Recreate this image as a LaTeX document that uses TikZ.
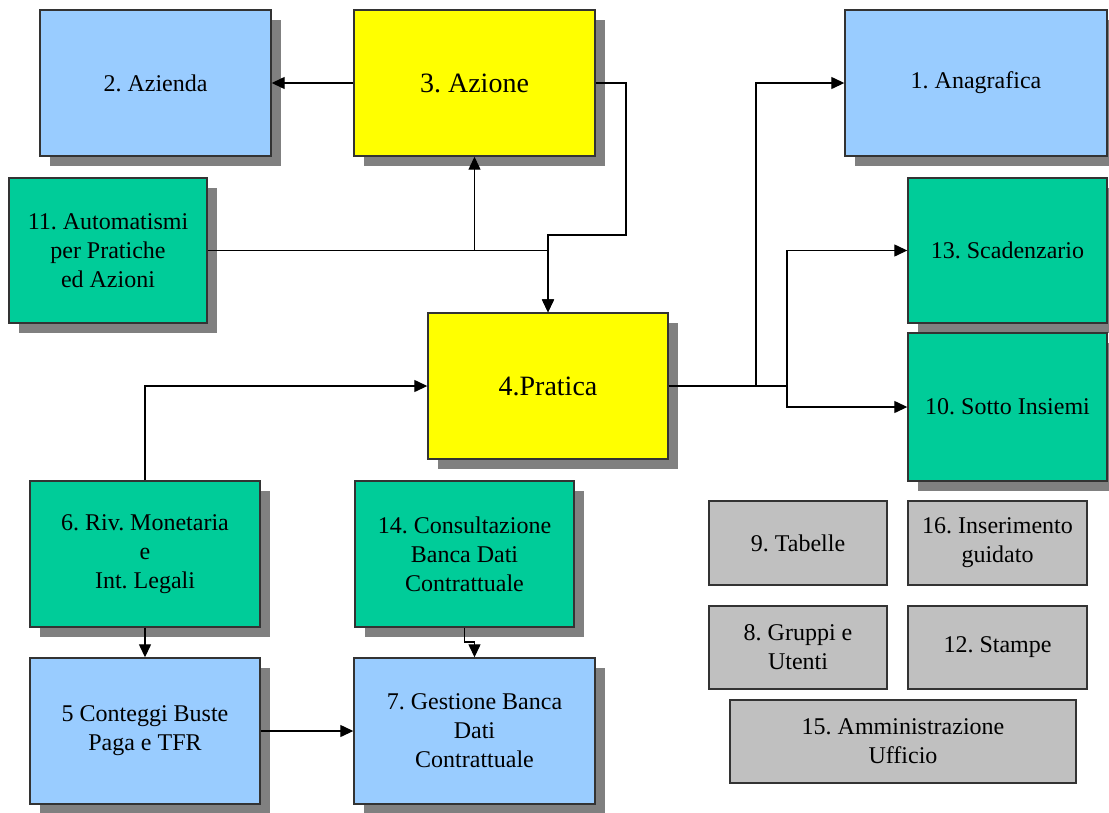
\documentclass[tikz,border=0pt]{standalone}
\usepackage{fontspec}
\setmainfont{Liberation Serif}
\usetikzlibrary{arrows.meta,shadows}
\definecolor{boxblue}{HTML}{99CCFF}
\definecolor{boxyellow}{HTML}{FFFF00}
\definecolor{boxgreen}{HTML}{00CC99}
\definecolor{boxgray}{HTML}{C0C0C0}
\definecolor{shadowgray}{HTML}{808080}
\definecolor{edge}{HTML}{333333}
\frenchspacing
\begin{document}
\begin{tikzpicture}[x=1pt,y=-1pt,
  module/.style={draw=edge, line width=1.4pt, rectangle, inner sep=0pt, align=center,
    font=\fontsize{24}{29}\selectfont},
  shadowed/.style={module, drop shadow={shadow xshift=10pt, shadow yshift=-10pt,
    fill=shadowgray, opacity=1}},
  bluebox/.style={shadowed, fill=boxblue},
  yellowbox/.style={shadowed, fill=boxyellow, font=\fontsize{28}{34}\selectfont},
  greenbox/.style={shadowed, fill=boxgreen},
  graybox/.style={module, fill=boxgray},
  arr/.style={draw=black, line width=1.3pt, -{Triangle[length=13pt,width=12pt]}}]
\useasboundingbox (0,0) rectangle (1109,812);

% main modules
\node[bluebox, minimum width=231pt, minimum height=146pt] (azienda) at (155.5,83) {2. Azienda};
\node[yellowbox, minimum width=241pt, minimum height=146pt] (azione) at (474.5,83) {3. Azione};
\node[bluebox, minimum width=262pt, minimum height=146pt] (anagrafica) at (976,83) {1. Anagrafica};
\node[greenbox, minimum width=198pt, minimum height=145pt] (auto) at (108,250.5) {11. Automatismi\\per Pratiche\\ed Azioni};
\node[greenbox, minimum width=199pt, minimum height=145pt] (scad) at (1007.5,250.5) {13. Scadenzario};
\node[yellowbox, minimum width=240pt, minimum height=146pt] (pratica) at (548,386) {4.Pratica};
\node[greenbox, minimum width=199pt, minimum height=148pt] (sotto) at (1007.5,407) {10. Sotto Insiemi};
\node[greenbox, minimum width=230pt, minimum height=146pt] (riv) at (145,554) {6. Riv. Monetaria\\e\\Int. Legali};
\node[greenbox, minimum width=219pt, minimum height=146pt] (consult) at (464.5,554) {14. Consultazione\\Banca Dati\\Contrattuale};
\node[bluebox, minimum width=230pt, minimum height=146pt] (cont) at (145,731) {5 Conteggi Buste\\Paga e TFR};
\node[bluebox, minimum width=241pt, minimum height=146pt] (gest) at (474.5,731) {7. Gestione Banca\\Dati\\Contrattuale};

% service modules
\node[graybox, minimum width=178pt, minimum height=84pt] (tab) at (798,543) {9. Tabelle};
\node[graybox, minimum width=179pt, minimum height=84pt] (ins) at (997.5,543) {16. Inserimento\\guidato};
\node[graybox, minimum width=178pt, minimum height=83pt] (grp) at (798,647.5) {8. Gruppi e\\Utenti};
\node[graybox, minimum width=179pt, minimum height=83pt] (stm) at (997.5,647.5) {12. Stampe};
\node[graybox, minimum width=346pt, minimum height=83pt] (amm) at (903,741.5) {15. Amministrazione\\Ufficio};

% junction points
\coordinate (j1) at (626,235);
\coordinate (b1) at (756,386);
\coordinate (b2) at (787,386);
\coordinate (k1) at (464.5,642);

% connectors
\draw[arr] (azione.west) -- (azienda.east);
\draw[arr] (azione.east) -| (j1) -| (pratica.north);
\draw[arr] (auto.east) -| (pratica.north);
\draw[arr] (auto.east) -| (azione.south);
\draw[arr] (pratica.east) -- (b1) |- (anagrafica.west);
\draw[arr] (pratica.east) -- (b2) |- (scad.west);
\draw[arr] (b2) |- (sotto.west);
\draw[arr] (riv.north) |- (pratica.west);
\draw[arr] (riv.south) -- (cont.north);
\draw[arr] (cont.east) -- (gest.west);
\draw[arr] (consult.south) -- (k1) -| (gest.north);
\end{tikzpicture}
\end{document}
